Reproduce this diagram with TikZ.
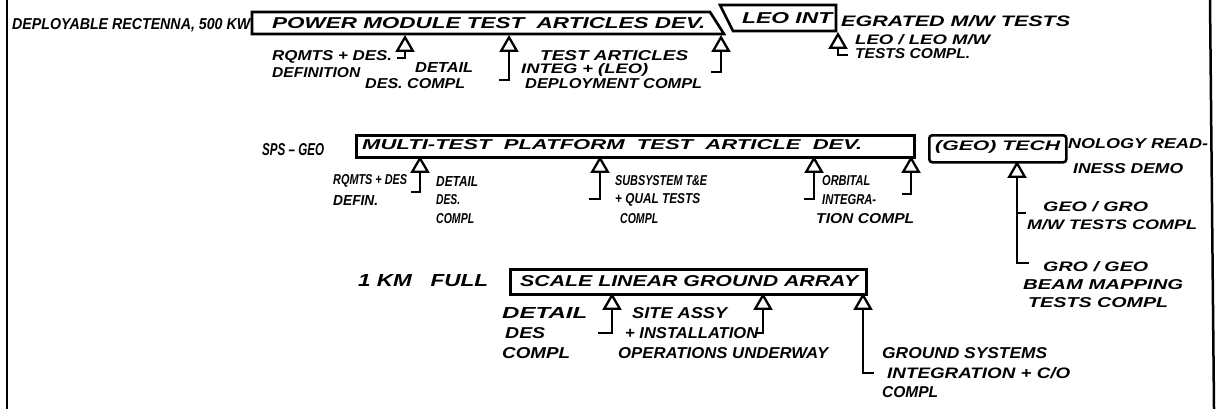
\documentclass[tikz,border=0pt]{standalone}
\usepackage{fontspec}
\setmainfont{Liberation Sans}
\usetikzlibrary{shapes.geometric}
\newcommand\hw{\bfseries\itshape}
\newcommand\T[3][10]{\resizebox{#2pt}{#1pt}{\hw #3}}
\begin{document}
\begin{tikzpicture}[x=1pt,y=-1pt,
  txt/.style={inner sep=0pt, anchor=west},
  tri/.style={regular polygon, regular polygon sides=3, draw, line width=2.3pt,
    fill=white, minimum size=18pt, inner sep=0pt, anchor=corner 1},
  stem/.style={line width=2.3pt},
  boxl/.style={line width=2.6pt, line join=miter},
  rbox/.style={draw, line width=2.6pt, inner sep=0pt, anchor=north west},
  frame/.style={line width=2.5pt}]
\useasboundingbox (0,0) rectangle (1217,409);
% frame
\draw[frame] (7,0) -- (7,409);
\draw[frame] (1210,0) -- (1214,409);

% ---------- row 1 ----------
\node[txt] (t1) at (12,25) {\T[11]{238}{DEPLOYABLE RECTENNA, 500 KW}};
\draw[boxl] (252,12) -- (710,12) -- (724,34) -- (252,34) -- cycle;
\node[txt] (t2) at (272,23) {\T[11]{433}{POWER MODULE TEST\ \ ARTICLES DEV.}};
\draw[boxl] (720,5) -- (836,5) -- (836,31) -- (733,31) -- cycle;
\node[txt] (t3) at (742,18) {\T[11]{90}{LEO INT}};
\node[txt] (t4) at (841,21) {\T[11]{229}{EGRATED M/W TESTS}};

\node[tri] (m1) at (405,35) {};
\coordinate (h1) at (397,58);
\draw[stem] (m1.south) |- (h1);
\node[txt] (l1a) at (272,57) {\T{120}{RQMTS + DES.}};
\node[txt] (l1b) at (272,73) {\T{88}{DEFINITION}};

\node[tri] (m2) at (509,35) {};
\coordinate (h2) at (499,80);
\draw[stem] (m2.south) |- (h2);
\node[txt] (l2a) at (415,68) {\T{58}{DETAIL}};
\node[txt] (l2b) at (365,84) {\T{100}{DES. COMPL}};

\node[txt] (l3a) at (540,56) {\T{148}{TEST ARTICLES}};
\node[txt] (l3b) at (521,70) {\T{127}{INTEG + (LEO)}};
\node[txt] (l3c) at (525,84) {\T{177}{DEPLOYMENT COMPL}};
\node[tri] (m3) at (721,35) {};
\coordinate (h3) at (711,72);
\draw[stem] (m3.south) |- (h3);

\node[tri] (m4) at (838,32) {};
\coordinate (h4) at (848,55);
\draw[stem] (m4.south) |- (h4);
\node[txt] (l4a) at (855,40) {\T{135}{LEO / LEO M/W}};
\node[txt] (l4b) at (855,54) {\T{115}{TESTS COMPL.}};

% ---------- row 2 ----------
\node[txt] (t5) at (262,150) {\T[12]{62}{SPS -- GEO}};
\node[rbox, minimum width=558pt, minimum height=22pt] (b2) at (355,134) {};
\node[txt] (t6) at (362,145) {\T{500}{MULTI-TEST\ \ PLATFORM\ \ TEST\ \ ARTICLE\ \ DEV.}};
\node[rbox, rounded corners=3pt, minimum width=137pt, minimum height=27pt] (b3) at (928,134) {};
\node[txt] (t7) at (935,147) {\T{125}{(GEO) TECH}};
\node[txt] (t8) at (1068,144) {\T{140}{NOLOGY READ-}};
\node[txt] (t9) at (1073,169) {\T{110}{INESS DEMO}};

\node[tri] (m5) at (420,156) {};
\coordinate (h5) at (411,192);
\draw[stem] (m5.south) |- (h5);
\node[txt] (l5a) at (333,181) {\T{74}{RQMTS + DES}};
\node[txt] (l5b) at (333,200) {\T{45}{DEFIN.}};
\node[txt] (l6a) at (436,181) {\T{42}{DETAIL}};
\node[txt] (l6b) at (436,200) {\T{24}{DES.}};
\node[txt] (l6c) at (436,219) {\T{38}{COMPL}};

\node[tri] (m6) at (600,156) {};
\coordinate (h6) at (589,199);
\draw[stem] (m6.south) |- (h6);
\node[txt] (l7a) at (615,181) {\T{92}{SUBSYSTEM T\&E}};
\node[txt] (l7b) at (615,200) {\T{85}{+ QUAL TESTS}};
\node[txt] (l7c) at (620,219) {\T{38}{COMPL}};

\node[tri] (m7) at (814,156) {};
\coordinate (h7) at (804,199);
\draw[stem] (m7.south) |- (h7);
\node[txt] (l8a) at (822,181) {\T{48}{ORBITAL}};
\node[txt] (l8b) at (822,200) {\T{54}{INTEGRA-}};
\node[txt] (l8c) at (816,219) {\T{98}{TION COMPL}};

\node[tri] (m8) at (911,156) {};
\coordinate (h8) at (902,194);
\draw[stem] (m8.south) |- (h8);

\node[tri] (m9) at (1017,161) {};
\coordinate (h9) at (1029,263);
\coordinate (h9b) at (1026,213);
\draw[stem] (m9.south) |- (h9);
\draw[stem] (h9b) -| (m9.south);
\node[txt] (l9a) at (1043,207) {\T{105}{GEO / GRO}};
\node[txt] (l9b) at (1027,225) {\T{170}{M/W TESTS COMPL}};
\node[txt] (l10a) at (1043,267) {\T{105}{GRO / GEO}};
\node[txt] (l10b) at (1023,285) {\T{160}{BEAM MAPPING}};
\node[txt] (l10c) at (1028,303) {\T{140}{TESTS COMPL}};

% ---------- row 3 ----------
\node[txt] (t10) at (358,281) {\T[12]{130}{1 KM\ \ \ FULL}};
\node[rbox, minimum width=356pt, minimum height=25pt] (b4) at (509,268) {};
\node[txt] (t11) at (520,281) {\T[11]{338}{SCALE LINEAR GROUND ARRAY}};

\node[tri] (m10) at (612,293) {};
\coordinate (h10) at (598,333);
\draw[stem] (m10.south) |- (h10);
\node[txt] (l11a) at (502,313) {\T[11]{85}{DETAIL}};
\node[txt] (l11b) at (505,333) {\T[11]{40}{DES}};
\node[txt] (l11c) at (502,353) {\T[11]{68}{COMPL}};
\node[txt] (l12a) at (632,313) {\T[11]{95}{SITE ASSY}};
\node[txt] (l12b) at (625,333) {\T[11]{133}{+ INSTALLATION}};
\node[txt] (l12c) at (618,353) {\T[11]{210}{OPERATIONS UNDERWAY}};

\node[tri] (m11) at (763,293) {};
\coordinate (h11) at (755,333);
\draw[stem] (m11.south) |- (h11);

\node[tri] (m12) at (863,293) {};
\coordinate (h12) at (874,373);
\draw[stem] (m12.south) |- (h12);
\node[txt] (l13a) at (882,353) {\T[11]{165}{GROUND SYSTEMS}};
\node[txt] (l13b) at (887,373) {\T[11]{183}{INTEGRATION + C/O}};
\node[txt] (l13c) at (882,392) {\T[11]{56}{COMPL}};
\end{tikzpicture}
\end{document}
